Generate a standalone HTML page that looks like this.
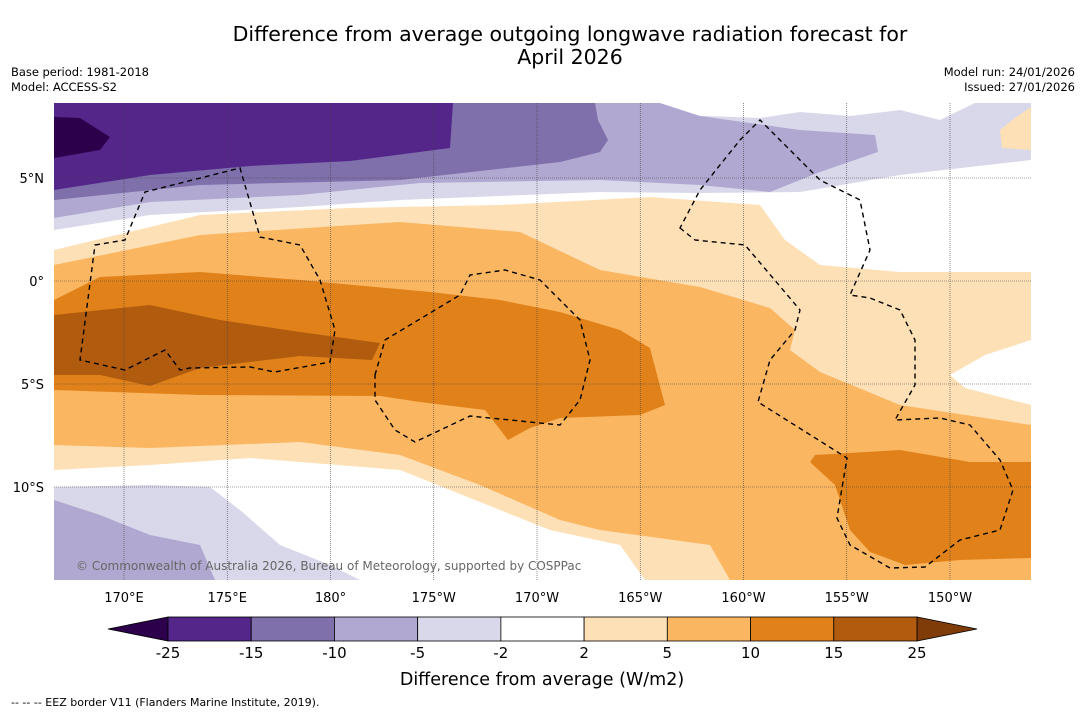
<!DOCTYPE html>
<html><head><meta charset="utf-8"><style>
body{margin:0;background:#fff;width:1085px;height:713px;overflow:hidden;font-family:"Liberation Sans","DejaVu Sans",sans-serif}
svg text{font-family:"DejaVu Sans","Liberation Sans",sans-serif}
</style></head><body>
<svg id="c" width="1085" height="713">
<text x="570" y="41" font-size="20.5" text-anchor="middle">Difference from average outgoing longwave radiation forecast for</text>
<text x="570" y="64" font-size="20.5" text-anchor="middle">April 2026</text>
<text x="11" y="76" font-size="11.5" textLength="138">Base period: 1981-2018</text>
<text x="11" y="91" font-size="11.5" textLength="106">Model: ACCESS-S2</text>
<text x="1075" y="76" font-size="11.5" text-anchor="end">Model run: 24/01/2026</text>
<text x="1075" y="91" font-size="11.5" text-anchor="end">Issued: 27/01/2026</text>
<g id="map">
<clipPath id="cl"><rect x="54" y="103" width="977" height="477"/></clipPath>
<g clip-path="url(#cl)">
<rect x="54" y="103" width="977" height="477" fill="#fff"/>
<path fill="#fde0b6" d="M54,250 L200,215 L350,208 L500,205 L650,197 L760,205 L785,240 L820,265 L900,272 L1031,272 L1031,580 L54,580 Z"/>
<path fill="#fff" d="M54,470 L150,465 L250,458 L400,470 L550,530 L620,545 L645,580 L54,580 Z"/>
<path fill="#fff" d="M1031,340 L985,355 L950,375 L965,388 L1031,405 Z"/>
<path fill="#fbb661" d="M54,265 L200,235 L400,222 L520,232 L600,270 L700,287 L770,308 L795,330 L790,350 L820,372 L900,405 L1031,425 L1031,580 L730,580 L710,545 L600,530 L560,520 L480,485 L400,455 L300,442 L150,448 L54,445 Z"/>
<path fill="#e08219" d="M54,300 L100,277 L200,272 L300,280 L430,292 L500,300 L560,312 L620,330 L650,348 L665,405 L640,415 L560,418 L530,428 L508,440 L485,410 L420,402 L380,396 L200,395 L54,390 Z"/>
<path fill="#e08219" d="M815,455 L900,450 L970,462 L1031,462 L1031,558 L960,560 L905,565 L870,552 L850,530 L835,485 L810,462 Z"/>
<path fill="#b05b0e" d="M54,315 L150,305 L220,320 L300,332 L380,343 L372,360 L300,356 L200,368 L150,386 L100,375 L54,375 Z"/>
<path fill="#d8d8ea" d="M54,230 L150,215 L300,207 L400,200 L600,192 L700,193 L800,192 L900,175 L1031,160 L1031,103 L54,103 Z"/>
<path fill="#fff" d="M660,103 L680,115 L760,118 L800,112 L850,116 L900,110 L940,120 L975,103 Z"/>
<path fill="#fde0b6" d="M1031,107 L1015,118 L1000,130 L1002,148 L1031,150 Z"/>
<path fill="#b0a8d1" d="M54,218 L150,202 L300,195 L420,183 L600,180 L700,185 L770,192 L820,172 L878,152 L875,135 L800,130 L700,116 L660,103 L54,103 Z"/>
<path fill="#7f6fab" d="M54,200 L200,185 L400,180 L560,162 L600,152 L608,140 L598,120 L595,103 L54,103 Z"/>
<path fill="#54268a" d="M54,190 L150,175 L250,166 L350,161 L450,148 L453,103 L54,103 Z"/>
<path fill="#2d004b" d="M54,117 L80,118 L110,137 L100,150 L54,158 Z"/>
<path fill="#d8d8ea" d="M54,487 L150,485 L210,487 L240,510 L280,545 L330,565 L360,580 L54,580 Z"/>
<path fill="#b0a8d1" d="M54,500 L100,515 L150,535 L200,545 L215,580 L54,580 Z"/>
<g id="grid" stroke="#444" stroke-width="0.6" stroke-dasharray="1,1"></g>
<g fill="none" stroke="#000" stroke-width="1.4" stroke-dasharray="5,4">
<path d="M95,245 L125,240 L145,192 L240,168 L260,237 L300,245 L320,280 L335,330 L330,362 L275,372 L250,367 L190,368 L180,370 L165,350 L125,370 L80,360 Z"/>
<path d="M375,375 L385,340 L460,295 L470,275 L505,270 L540,280 L580,320 L590,360 L580,400 L560,425 L470,416 L415,442 L395,430 L375,400 Z"/>
<path d="M680,228 L695,240 L745,245 L800,310 L795,330 L770,360 L758,402 L847,458 L837,518 L850,545 L890,568 L925,567 L960,540 L1000,530 L1013,490 L1000,460 L970,425 L940,418 L895,420 L915,385 L915,340 L900,310 L870,298 L850,295 L870,250 L860,200 L820,180 L760,120 L740,140 L700,190 Z"/>
</g>
</g>
<text x="76" y="570" font-size="12" fill="#666">© Commonwealth of Australia 2026, Bureau of Meteorology, supported by COSPPac</text>
</g>
<g id="ticks"></g>
<g id="cbar"></g>
<text x="542" y="685" font-size="17.5" text-anchor="middle">Difference from average (W/m2)</text>
<text x="11" y="706" font-size="11">-- -- -- EEZ border V11 (Flanders Marine Institute, 2019).</text>
</svg>
<script>
const lonLabels=["170°E","175°E","180°","175°W","170°W","165°W","160°W","155°W","150°W"];
const lonValues=[170,175,180,185,190,195,200,205,210];
const latLabels=["5°N","0°","5°S","10°S"];
const latValues=[5,0,-5,-10];
const levels=["-25","-15","-10","-5","-2","2","5","10","15","25"];
const colors=["#54268a","#7f6fab","#b0a8d1","#d8d8ea","#ffffff","#fde0b6","#fbb661","#e08219","#b05b0e"];
const ns="http://www.w3.org/2000/svg";
const xLon=l=>124+(l-170)*20.65;
const yLat=l=>281-l*20.6;
function mk(t,a,p){const e=document.createElementNS(ns,t);for(const k in a)e.setAttribute(k,a[k]);p.appendChild(e);return e;}
const g=document.getElementById('grid'),tk=document.getElementById('ticks'),cb=document.getElementById('cbar');
lonValues.forEach((v,i)=>{const x=xLon(v);
const ln=mk('line',{x1:x,x2:x,y1:103,y2:580},g);


const t=mk('text',{x:x,y:602,'font-size':13,'text-anchor':'middle'},tk);t.textContent=lonLabels[i];

});
latValues.forEach((v,i)=>{const y=yLat(v);
const ln=mk('line',{x1:54,x2:1031,y1:y,y2:y},g);


const t=mk('text',{x:44,y:y+5,'font-size':13,'text-anchor':'end'},tk);t.textContent=latLabels[i];

});
const x0=168,x1=917,w=(x1-x0)/colors.length,yT=617,yB=641;
const lt=mk('polygon',{points:`108,629 ${x0},${yT} ${x0},${yB}`,fill:'#2d004b',stroke:'#000','stroke-width':0.8},cb);


const rt=mk('polygon',{points:`977,629 ${x1},${yT} ${x1},${yB}`,fill:'#7f3b08',stroke:'#000','stroke-width':0.8},cb);


colors.forEach((c,i)=>{const r=mk('rect',{x:x0+i*w,y:yT,width:w,height:yB-yT,fill:c,stroke:'#000','stroke-width':0.8},cb);

});
levels.forEach((l,i)=>{const t=mk('text',{x:x0+i*w,y:658,'font-size':15,'text-anchor':'middle'},cb);t.textContent=l;

});
</script>
</body></html>
